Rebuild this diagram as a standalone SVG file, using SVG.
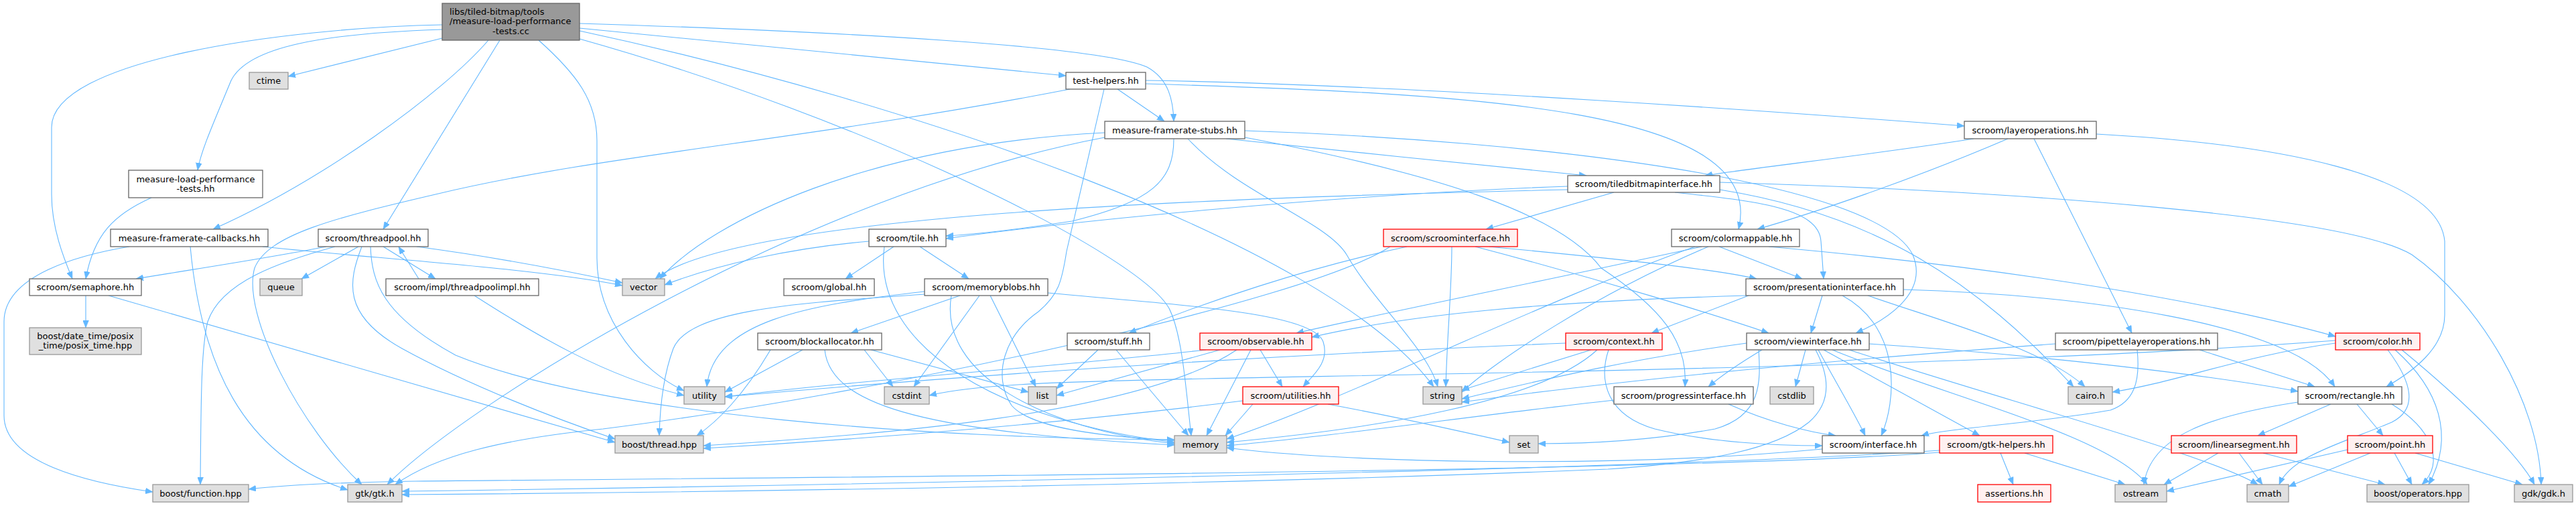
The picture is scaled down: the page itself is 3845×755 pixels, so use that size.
<svg xmlns="http://www.w3.org/2000/svg" width="3845" height="755" viewBox="0 0 3845 755">
<style>
text{font-family:"DejaVu Sans","Liberation Sans",sans-serif;font-size:13px;fill:#000;text-anchor:middle}
.n{fill:#fff;stroke:#666;stroke-width:1.3}
.g{fill:#e0e0e0;stroke:#999;stroke-width:1.3}
.r{fill:#fff0f0;stroke:#f00;stroke-width:1.3}
.m{fill:#999;stroke:#666;stroke-width:1.3}
#edges path{fill:none;stroke:#63b8ff;stroke-width:1.1;marker-end:url(#ah)}
</style>
<defs>
<marker id="ah" viewBox="0 0 11 9" refX="11" refY="4.5" markerWidth="11" markerHeight="9" markerUnits="userSpaceOnUse" orient="auto"><path d="M0,0 L11,4.5 L0,9 z" fill="#63b8ff" stroke="#63b8ff" stroke-width="0.5"/></marker>
</defs>
<rect width="3845" height="755" fill="#fff"/>
<g id="edges">
<path d="M660,37 C420,42 77,90 77,190 V290 C77,340 95,385 108,416"/>
<path d="M660,44 C480,50 370,70 345,120 C318,185 300,225 295,254"/>
<path d="M660,57 L430,114"/>
<path d="M729,60 C660,140 480,270 318,342"/>
<path d="M746,60 L572,342"/>
<path d="M804,60 C860,110 891,150 891,210 V385 C891,480 960,555 1021,583"/>
<path d="M865,42 L1591,113"/>
<path d="M865,35 C1250,47 1640,68 1712,100 C1745,118 1751,150 1752,181"/>
<path d="M865,46 C1350,150 1980,360 2140,577"/>
<path d="M865,58 C1300,180 1700,380 1745,460 C1765,500 1770,580 1778,650"/>
<path d="M1648,133 L1592,375 C1585,420 1580,440 1550,465 C1500,500 1480,560 1510,605 C1540,640 1650,652 1753,657"/>
<path d="M1597,133 C1200,210 900,230 650,290 C500,325 400,350 380,400 C360,470 450,640 540,723"/>
<path d="M1668,133 L1738,181"/>
<path d="M1710,120 C2100,126 2700,170 2932,188"/>
<path d="M1710,125 C2200,140 2640,160 2595,342"/>
<path d="M1752,207 C1752,270 1720,300 1600,330 C1500,345 1450,350 1412,352"/>
<path d="M1649,198 C1300,215 1060,330 985,416"/>
<path d="M1649,205 C1200,290 700,600 578,723"/>
<path d="M1773,207 C1850,290 1980,330 2010,380 C2050,450 2130,520 2146,577"/>
<path d="M1858,205 C2150,260 2330,320 2390,400 C2480,460 2520,510 2515,577"/>
<path d="M1858,195 C2300,210 2800,270 2855,380 C2880,440 2810,480 2770,497"/>
<path d="M1830,207 C2000,225 2200,245 2368,262"/>
<path d="M1334,368 L1262,416"/>
<path d="M1373,368 L1446,416"/>
<path d="M1297,360 C1180,370 1070,395 992,425"/>
<path d="M1320,368 C1300,520 1500,630 1753,660"/>
<path d="M1433,441 L1270,497"/>
<path d="M1462,441 L1364,577"/>
<path d="M1478,441 L1546,577"/>
<path d="M1564,437 C1750,455 1960,465 1975,510 C1985,540 1960,560 1945,577"/>
<path d="M1380,435 C1200,455 1065,480 1055,577"/>
<path d="M1380,439 C1200,452 1030,460 1005,520 C990,560 985,610 984,650"/>
<path d="M1420,441 C1400,560 1560,640 1753,662"/>
<path d="M1198,522 L1082,585"/>
<path d="M1290,522 L1333,577"/>
<path d="M1300,522 L1535,585"/>
<path d="M1231,522 C1240,610 1400,645 1753,664"/>
<path d="M1150,522 C1110,590 1070,630 1040,650"/>
<path d="M1639,522 L1577,580"/>
<path d="M1666,522 L1774,650"/>
<path d="M1867,522 L1801,650"/>
<path d="M1881,522 L1914,577"/>
<path d="M1821,522 L1577,590"/>
<path d="M1800,522 C1550,550 1300,565 1082,592"/>
<path d="M1846,522 C1700,620 1300,650 1050,665"/>
<path d="M1982,603 C2100,625 2200,648 2253,660"/>
<path d="M1870,603 L1829,650"/>
<path d="M1855,598 C1600,630 1300,655 1050,669"/>
<path d="M2167,368 C2167,430 2160,500 2158,577"/>
<path d="M2100,368 C1950,400 1800,450 1685,497"/>
<path d="M2223,368 C2400,385 2550,400 2622,416"/>
<path d="M2202,368 C2400,420 2560,470 2640,497"/>
<path d="M2075,368 C1950,450 1300,590 900,640 C750,655 650,680 590,723"/>
<path d="M2340,278 C2000,290 1600,330 1412,356"/>
<path d="M2409,287 L2218,342"/>
<path d="M2340,283 C1800,295 1100,320 978,416"/>
<path d="M2500,287 C2620,300 2715,310 2718,360 L2722,416"/>
<path d="M2567,272 C3000,285 3500,320 3600,380 C3700,450 3790,600 3793,723"/>
<path d="M2567,283 C2800,320 2950,420 3095,577"/>
<path d="M2946,207 C2800,230 2620,250 2545,262"/>
<path d="M2997,207 C2850,270 2700,320 2623,342"/>
<path d="M3036,207 L3182,497"/>
<path d="M3129,200 C3400,215 3640,260 3649,360 L3649,470 C3649,520 3600,555 3562,577"/>
<path d="M2540,368 C2300,420 2050,470 1935,497"/>
<path d="M2566,368 L2690,416"/>
<path d="M2640,368 C3000,400 3300,450 3486,502"/>
<path d="M2530,368 C2300,450 2000,600 1831,655"/>
<path d="M2550,368 C2380,440 2230,540 2182,585"/>
<path d="M2606,441 C2300,450 2100,470 1958,503"/>
<path d="M2610,441 L2465,497"/>
<path d="M2720,441 L2703,497"/>
<path d="M2750,441 C2840,490 2830,600 2808,650"/>
<path d="M2788,441 C2900,480 3050,520 3112,577"/>
<path d="M2841,432 C3100,440 3420,480 3485,577"/>
<path d="M2375,522 L2182,582"/>
<path d="M2384,522 C2300,600 2050,640 1831,660"/>
<path d="M2401,522 C2385,570 2400,620 2470,640 C2550,660 2650,665 2720,665"/>
<path d="M2337,512 C1900,530 1500,555 1082,592"/>
<path d="M2695,522 L2680,577"/>
<path d="M2710,522 C2730,560 2735,600 2700,630 C2650,670 2550,690 2400,700 C1800,725 1000,735 600,738"/>
<path d="M2714,522 C2740,570 2770,620 2784,650"/>
<path d="M2722,522 L2955,650"/>
<path d="M2735,522 C2900,590 3150,650 3205,723"/>
<path d="M2630,522 C2600,540 2570,560 2550,577"/>
<path d="M2625,522 C2628,570 2630,620 2560,640 C2450,660 2350,662 2296,662"/>
<path d="M2790,513 C3050,530 3300,560 3430,584"/>
<path d="M2760,522 C3000,600 3300,680 3370,723"/>
<path d="M2607,512 C2400,540 2250,580 2182,595"/>
<path d="M2580,603 C2640,630 2700,645 2740,650"/>
<path d="M2409,597 C2200,620 2000,650 1831,665"/>
<path d="M2720,670 C2400,700 2000,690 1831,668"/>
<path d="M2986,676 L3005,723"/>
<path d="M3022,676 L3172,723"/>
<path d="M2895,672 C2500,700 1200,725 600,733"/>
<path d="M2895,675 C2500,705 1200,712 620,718 C500,720 420,724 371,730"/>
<path d="M3190,522 C3195,570 3185,600 3150,612 C3050,630 2900,640 2868,650"/>
<path d="M3283,522 L3455,577"/>
<path d="M3068,513 C2700,540 2400,570 2182,600"/>
<path d="M3486,512 C3350,530 3250,570 3153,585"/>
<path d="M3564,522 C3600,570 3610,610 3570,630 C3500,660 3420,680 3402,723"/>
<path d="M3575,522 C3640,580 3665,650 3625,723"/>
<path d="M3585,522 C3680,600 3760,680 3783,723"/>
<path d="M3486,508 C3000,545 2300,555 1800,565 C1550,570 1450,575 1387,590"/>
<path d="M3479,603 L3370,650"/>
<path d="M3518,603 L3557,650"/>
<path d="M3570,603 C3630,640 3650,690 3615,723"/>
<path d="M3430,600 C3300,620 3210,650 3200,723"/>
<path d="M3311,676 L3230,723"/>
<path d="M3342,676 L3377,723"/>
<path d="M3378,676 L3560,723"/>
<path d="M3504,671 L3234,733"/>
<path d="M3538,676 L3416,726"/>
<path d="M3574,676 L3600,723"/>
<path d="M3605,676 L3765,723"/>
<path d="M128,441 L128,489"/>
<path d="M162,441 L918,660"/>
<path d="M193,368 C120,380 6,410 6,480 V620 C6,690 130,720 228,734"/>
<path d="M284,368 C300,540 360,680 519,731"/>
<path d="M392,368 C550,385 800,400 929,426"/>
<path d="M487,368 C400,385 300,400 203,416"/>
<path d="M535,368 L450,416"/>
<path d="M572,368 L650,416"/>
<path d="M625,416 L595,368"/>
<path d="M622,368 C750,385 850,405 929,422"/>
<path d="M500,368 C420,390 330,420 310,480 C300,520 300,600 299,723"/>
<path d="M540,368 C520,420 510,470 600,520 C700,575 830,625 918,655"/>
<path d="M553,368 C555,420 570,470 680,530 C900,620 1400,655 1753,656"/>
<path d="M708,441 C800,500 900,560 1021,590"/>
<path d="M226,295 C170,320 140,350 128,416"/>
</g>
<g id="n-main"><rect class="m" x="660" y="5" width="205" height="55"/><text x="671" y="21.5" style="text-anchor:start">libs/tiled-bitmap/tools</text><text x="671" y="36" style="text-anchor:start">/measure-load-performance</text><text x="762.5" y="50.5">-tests.cc</text></g>
<g id="n-ctime"><rect class="g" x="372" y="108" width="58" height="25"/><text x="401" y="125">ctime</text></g>
<g id="n-test-helpers"><rect class="n" x="1591" y="108" width="119" height="25"/><text x="1650.5" y="125">test-helpers.hh</text></g>
<g id="n-stubs"><rect class="n" x="1649" y="181" width="209" height="26"/><text x="1753.5" y="198.5">measure-framerate-stubs.hh</text></g>
<g id="n-layeroperations"><rect class="n" x="2932" y="181" width="197" height="26"/><text x="3030.5" y="198.5">scroom/layeroperations.hh</text></g>
<g id="n-mlpt"><rect class="n" x="192" y="254" width="200" height="41"/><text x="292" y="271.5">measure-load-performance</text><text x="292" y="285.5">-tests.hh</text></g>
<g id="n-tiledbitmapinterface"><rect class="n" x="2340" y="262" width="227" height="25"/><text x="2453.5" y="279">scroom/tiledbitmapinterface.hh</text></g>
<g id="n-callbacks"><rect class="n" x="165" y="342" width="235" height="26"/><text x="282.5" y="359.5">measure-framerate-callbacks.hh</text></g>
<g id="n-threadpool"><rect class="n" x="475" y="342" width="164" height="26"/><text x="557" y="359.5">scroom/threadpool.hh</text></g>
<g id="n-tile"><rect class="n" x="1297" y="342" width="115" height="26"/><text x="1354.5" y="359.5">scroom/tile.hh</text></g>
<g id="n-scroominterface"><rect class="r" x="2065" y="342" width="200" height="26"/><text x="2165" y="359.5">scroom/scroominterface.hh</text></g>
<g id="n-colormappable"><rect class="n" x="2495" y="342" width="191" height="26"/><text x="2590.5" y="359.5">scroom/colormappable.hh</text></g>
<g id="n-semaphore"><rect class="n" x="44" y="416" width="167" height="25"/><text x="127.5" y="433">scroom/semaphore.hh</text></g>
<g id="n-queue"><rect class="g" x="388" y="416" width="63" height="25"/><text x="419.5" y="433">queue</text></g>
<g id="n-threadpoolimpl"><rect class="n" x="576" y="416" width="228" height="25"/><text x="690" y="433">scroom/impl/threadpoolimpl.hh</text></g>
<g id="n-vector"><rect class="g" x="929" y="416" width="63" height="25"/><text x="960.5" y="433">vector</text></g>
<g id="n-global"><rect class="n" x="1170" y="416" width="135" height="25"/><text x="1237.5" y="433">scroom/global.hh</text></g>
<g id="n-memoryblobs"><rect class="n" x="1380" y="416" width="184" height="25"/><text x="1472" y="433">scroom/memoryblobs.hh</text></g>
<g id="n-presentationinterface"><rect class="n" x="2606" y="416" width="235" height="25"/><text x="2723.5" y="433">scroom/presentationinterface.hh</text></g>
<g id="n-posix"><rect class="g" x="44" y="489" width="167" height="40"/><text x="127.5" y="505.5">boost/date_time/posix</text><text x="127.5" y="519.5">_time/posix_time.hpp</text></g>
<g id="n-blockallocator"><rect class="n" x="1131" y="497" width="185" height="25"/><text x="1223.5" y="514">scroom/blockallocator.hh</text></g>
<g id="n-stuff"><rect class="n" x="1593" y="497" width="123" height="25"/><text x="1654.5" y="514">scroom/stuff.hh</text></g>
<g id="n-observable"><rect class="r" x="1791" y="497" width="167" height="25"/><text x="1874.5" y="514">scroom/observable.hh</text></g>
<g id="n-context"><rect class="r" x="2337" y="497" width="144" height="25"/><text x="2409" y="514">scroom/context.hh</text></g>
<g id="n-viewinterface"><rect class="n" x="2607" y="497" width="183" height="25"/><text x="2698.5" y="514">scroom/viewinterface.hh</text></g>
<g id="n-pipettelayeroperations"><rect class="n" x="3068" y="497" width="242" height="25"/><text x="3189" y="514">scroom/pipettelayeroperations.hh</text></g>
<g id="n-color"><rect class="r" x="3486" y="497" width="126" height="25"/><text x="3549" y="514">scroom/color.hh</text></g>
<g id="n-utility"><rect class="g" x="1021" y="577" width="61" height="26"/><text x="1051.5" y="594.5">utility</text></g>
<g id="n-cstdint"><rect class="g" x="1320" y="577" width="67" height="26"/><text x="1353.5" y="594.5">cstdint</text></g>
<g id="n-list"><rect class="g" x="1535" y="577" width="42" height="26"/><text x="1556" y="594.5">list</text></g>
<g id="n-utilities"><rect class="r" x="1855" y="577" width="143" height="26"/><text x="1926.5" y="594.5">scroom/utilities.hh</text></g>
<g id="n-string"><rect class="g" x="2124" y="577" width="58" height="26"/><text x="2153" y="594.5">string</text></g>
<g id="n-progressinterface"><rect class="n" x="2409" y="577" width="208" height="26"/><text x="2513" y="594.5">scroom/progressinterface.hh</text></g>
<g id="n-cstdlib"><rect class="g" x="2642" y="577" width="65" height="26"/><text x="2674.5" y="594.5">cstdlib</text></g>
<g id="n-cairo"><rect class="g" x="3087" y="577" width="66" height="26"/><text x="3120" y="594.5">cairo.h</text></g>
<g id="n-rectangle"><rect class="n" x="3430" y="577" width="155" height="26"/><text x="3507.5" y="594.5">scroom/rectangle.hh</text></g>
<g id="n-boost-thread"><rect class="g" x="918" y="650" width="132" height="26"/><text x="984" y="667.5">boost/thread.hpp</text></g>
<g id="n-memory"><rect class="g" x="1753" y="650" width="78" height="26"/><text x="1792" y="667.5">memory</text></g>
<g id="n-set"><rect class="g" x="2253" y="650" width="43" height="26"/><text x="2274.5" y="667.5">set</text></g>
<g id="n-interface"><rect class="n" x="2720" y="650" width="152" height="26"/><text x="2796" y="667.5">scroom/interface.hh</text></g>
<g id="n-gtk-helpers"><rect class="r" x="2895" y="650" width="169" height="26"/><text x="2979.5" y="667.5">scroom/gtk-helpers.hh</text></g>
<g id="n-linearsegment"><rect class="r" x="3241" y="650" width="187" height="26"/><text x="3334.5" y="667.5">scroom/linearsegment.hh</text></g>
<g id="n-point"><rect class="r" x="3504" y="650" width="127" height="26"/><text x="3567.5" y="667.5">scroom/point.hh</text></g>
<g id="n-boost-function"><rect class="g" x="228" y="723" width="143" height="26"/><text x="299.5" y="740.5">boost/function.hpp</text></g>
<g id="n-gtk"><rect class="g" x="519" y="723" width="81" height="26"/><text x="559.5" y="740.5">gtk/gtk.h</text></g>
<g id="n-assertions"><rect class="r" x="2952" y="723" width="109" height="26"/><text x="3006.5" y="740.5">assertions.hh</text></g>
<g id="n-ostream"><rect class="g" x="3157" y="723" width="77" height="26"/><text x="3195.5" y="740.5">ostream</text></g>
<g id="n-cmath"><rect class="g" x="3354" y="723" width="62" height="26"/><text x="3385" y="740.5">cmath</text></g>
<g id="n-boost-operators"><rect class="g" x="3533" y="723" width="152" height="26"/><text x="3609" y="740.5">boost/operators.hpp</text></g>
<g id="n-gdk"><rect class="g" x="3753" y="723" width="87" height="26"/><text x="3796.5" y="740.5">gdk/gdk.h</text></g>
</svg>
